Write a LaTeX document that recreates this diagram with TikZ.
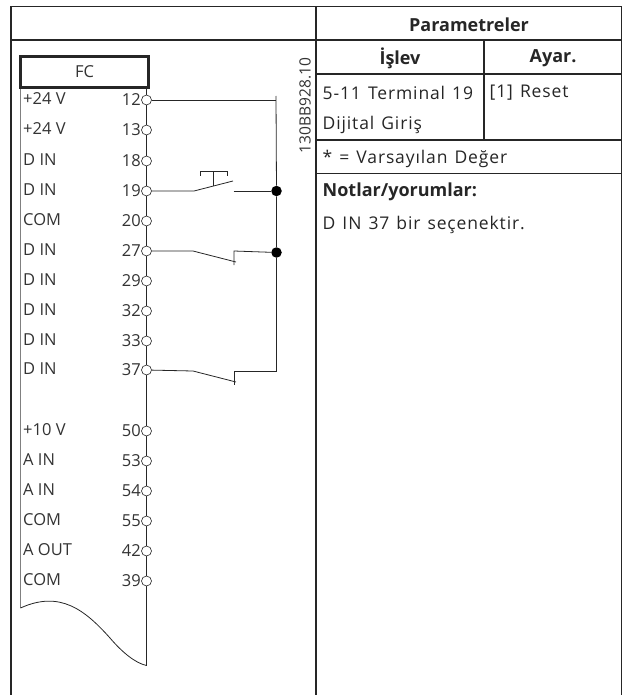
\documentclass[tikz,border=0pt]{standalone}
\usepackage{fontspec}
\setmainfont{Open Sans}
\newfontfamily\cellfont[LetterSpace=5,WordSpace=1.3]{Open Sans}
\usetikzlibrary{positioning}
\tikzset{
  rule/.style={line width=1.3pt, black!85},
  wire/.style={line width=0.8pt, black!85},
  cell/.style={inner sep=0pt, anchor=west, font=\fontsize{17.5}{20}\cellfont, text=black!85},
  head/.style={inner sep=0pt, font=\fontsize{18}{20}\selectfont\bfseries, text=black!85},
  pinname/.style={inner sep=0pt, anchor=west, font=\fontsize{16.5}{18}\selectfont, text=black!80},
  pinnum/.style={inner sep=0pt, anchor=east, font=\fontsize{16.5}{18}\selectfont, text=black!80},
  pin/.style={circle, draw=black!85, fill=white, line width=0.6pt, minimum size=10pt, inner sep=0pt},
  junction/.style={circle, fill=black, minimum size=10.5pt, inner sep=0pt},
}
\begin{document}
\begin{tikzpicture}[x=1pt,y=-1pt]
 \useasboundingbox (0,0) rectangle (622,695);
 % table rules
 \draw[rule] (11,695) -- (11,6.5) -- (621.3,6.5) -- (621.3,695);
 \draw[rule] (11,40) -- (621.3,40);
 \draw[rule] (316,6.5) -- (316,695);
 \draw[rule] (316,74) -- (621.3,74);
 \draw[rule] (484,40) -- (484,140);
 \draw[rule] (316,140) -- (621.3,140);
 \draw[rule] (316,173.5) -- (621.3,173.5);
 % table text
 \node[head] (param) at (469,24.5) {Parametreler};
 \node[head] (islev) at (400,58.5) {İşlev};
 \node[head] (ayar) at (553,58.5) {Ayar.};
 \node[cell] (term) at (322.5,92.5) {5-11 Terminal 19};
 \node[cell] (dijital) at (322.5,125) {Dijital Giriş};
 \node[cell] (reset) at (489.5,92.5) {[1] Reset};
 \node[cell] (varsay) at (322.5,158.5) {* = Varsayılan Değer};
 \node[cell, font=\fontsize{18}{20}\selectfont\bfseries] (notlar) at (322.5,192) {Notlar/yorumlar:};
 \node[cell] (dinnot) at (322.5,224.5) {D IN 37 bir seçenektir.};
 \node[rotate=90, inner sep=0pt, font=\fontsize{15.5}{18}\selectfont, text=black!80] (code) at (305,105.5) {130BB928.10};
 % FC block
 \draw[line width=1.3pt, black!50] (20.5,85) -- (20.5,608);
 \draw[wire] (146.5,85) -- (146.5,665.5);
 \draw[wire] (20.5,608) .. controls (60,590) and (85,610) .. (110,638) .. controls (122,652) and (135,663) .. (146.5,665.5);
 \node[draw=black!85, line width=3pt, fill=white, minimum width=127.4pt, minimum height=30.7pt, inner sep=0pt, font=\fontsize{16.5}{18}\selectfont, text=black!80] (fc) at (84.5,71.8) {FC};
 % terminals
 \foreach \yy/\lab/\num in {100/+24 V/12, 130/+24 V/13, 161/D IN/18, 191/D IN/19, 221/COM/20,
   251/D IN/27, 281/D IN/29, 311/D IN/32, 341/D IN/33, 370/D IN/37,
   431/+10 V/50, 461/A IN/53, 491/A IN/54, 521/COM/55, 551/A OUT/42, 581/COM/39}{
   \node[pinname] (name\num) at (23,\yy-1) {\lab};
   \node[pin] (pin\num) at (146.5,\yy) {};
   \node[pinnum] (num\num) at (141,\yy) {\num};
 }
 % wiring
 \coordinate (top) at (276,96);
 \node[junction] (jA) at (276.5,191) {};
 \node[junction] (jB) at (276.5,252.5) {};
 \coordinate (down) at (276.5,371);
 \draw[wire] (pin12) -- (276,100);
 \draw[wire] (top) -- (jA) -- (jB) -- (down);
 % push button on 19
 \coordinate (a19) at (194,191);
 \coordinate (b19) at (233,181);
 \coordinate (c19) at (233.5,191);
 \coordinate (m19) at (213.5,186);
 \draw[wire] (pin19) -- (a19) -- (b19);
 \draw[wire] (c19) -- (jA);
 \draw[wire] (m19) -- (213.5,171.5);
 \draw[wire] (200.5,175.5) -- (200.5,171.5) -- (227.5,171.5) -- (227.5,175.5);
 % contacts on 27 and 37
 \foreach \yy/\num/\jn in {251/27/jB, 371/37/down}{
   \coordinate (a\num) at (193,\yy);
   \coordinate (b\num) at (236,\yy+11);
   \draw[wire] (pin\num) -- (a\num) -- (b\num);
   \draw[wire] (\jn) -- (234,\yy) -- (234,\yy+14);
 }
\end{tikzpicture}
\end{document}
